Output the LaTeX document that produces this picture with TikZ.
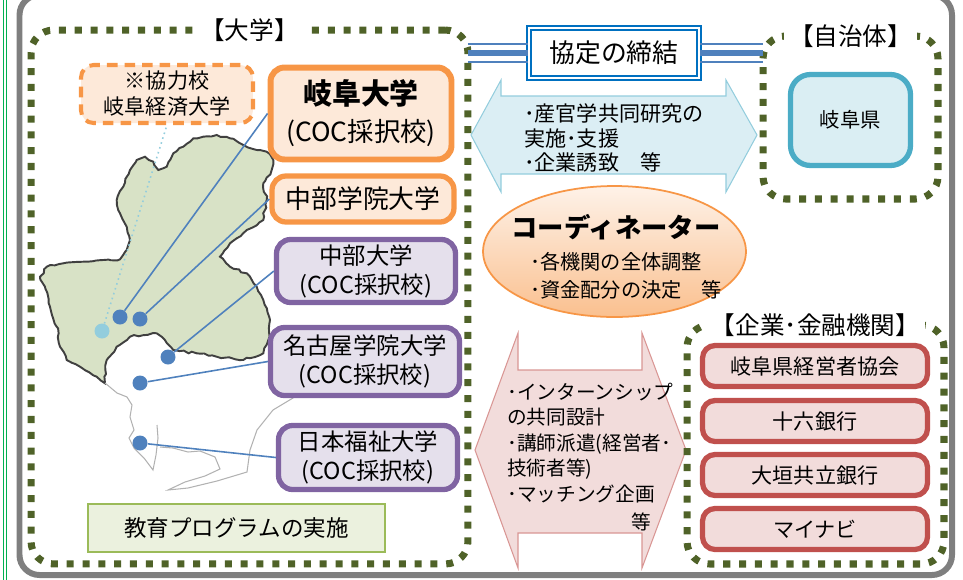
\documentclass[tikz,border=0pt]{standalone}
\usepackage{fontspec}
\setmainfont{Noto Sans CJK JP}
\usetikzlibrary{shapes.geometric, positioning, calc, decorations.pathmorphing}

\definecolor{oliva}{HTML}{4F6228}
\definecolor{grigio}{HTML}{7F7F7F}
\definecolor{verde}{HTML}{00B050}
\definecolor{arancio}{HTML}{F79646}
\definecolor{aranChiaro}{HTML}{FDE9D9}
\definecolor{aranMedio}{HTML}{FAC08F}
\definecolor{viola}{HTML}{8064A2}
\definecolor{violaChiaro}{HTML}{E5E0EC}
\definecolor{rosso}{HTML}{C0504D}
\definecolor{rosa}{HTML}{F2DCDB}
\definecolor{rosaBordo}{HTML}{D99694}
\definecolor{ciano}{HTML}{4BACC6}
\definecolor{cianoChiaro}{HTML}{DAEEF3}
\definecolor{azzurro}{HTML}{DBEEF4}
\definecolor{azzurroBordo}{HTML}{93CDDD}
\definecolor{bluM}{HTML}{4F81BD}
\definecolor{bluScuro}{HTML}{0070C0}
\definecolor{mappa}{HTML}{D8E2C6}
\definecolor{verdeBordo}{HTML}{9BBB59}
\definecolor{verdeChiaro}{HTML}{EBF1DE}

\begin{document}
\begin{tikzpicture}[x=0.02cm, y=-0.02cm,
    gruppo/.style={draw=oliva, line width=4pt, dash pattern=on 4pt off 5pt, rounded corners=0.45cm, inner sep=0, outer sep=0},
    etichetta/.style={fill=white, inner sep=3pt, font=\fontsize{14}{16}\selectfont},
    uniArancio/.style={draw=arancio, fill=aranChiaro, line width=3.4pt, rounded corners=0.28cm, align=center, inner sep=0},
    uniViola/.style={draw=viola, fill=violaChiaro, line width=3pt, rounded corners=0.28cm, align=center, inner sep=0, font=\fontsize{13.3}{16.5}\selectfont},
    impresa/.style={draw=rosso, fill=rosa, line width=3pt, rounded corners=0.25cm, inner sep=0, minimum width=4.5cm, minimum height=0.82cm, font=\fontsize{12}{14}\selectfont},
    punto/.style={circle, fill=bluM, inner sep=0, minimum size=0.3cm},
    filo/.style={draw=bluM, line width=0.9pt},
    bordoMappa/.style={draw=black!75, line width=1.1pt, fill=mappa, decorate, decoration={random steps, segment length=2.5pt, amplitude=0.7pt}},
    costa/.style={draw=black!30, line width=0.6pt}]
    \useasboundingbox (0,0) rectangle (963,579);

    % Cornice
    \draw[verde, line width=0.5pt] (3.5,-5) -- (3.5,590);
    \draw[verde, line width=0.5pt] (6.5,-5) -- (6.5,590);
    \draw[grigio, line width=3.4pt, rounded corners=0.4cm] (19.5,-5) rectangle (952,575);

    % Mappa
    \path[bordoMappa] (130,170) -- (136.7,160) -- (145,156.7) -- (153.3,161.7) -- (158.3,170) -- (166.7,166.7)
        -- (173.3,153.3) -- (183.3,146.7) -- (193.3,138.3) -- (203.3,136.7) -- (216.7,135) -- (230,138.3)
        -- (243.3,145) -- (256.7,150) -- (266.7,151.7) -- (273.3,160) -- (271.7,170) -- (263.3,183.3)
        -- (266.7,200) -- (263.3,220) -- (246.7,230) -- (230,243.3) -- (220,256.7) -- (230,266.7)
        -- (246.7,273.3) -- (256.7,286.7) -- (263.3,300) -- (270,320) -- (268.3,340) -- (263.3,353.3)
        -- (243.3,360) -- (216.7,356.7) -- (196.7,353.3) -- (173.3,350) -- (156.7,333.3) -- (130,336.7)
        -- (116.7,346.7) -- (106.7,360) -- (105,383.3) -- (96.7,376.7) -- (80,366.7) -- (66.7,360)
        -- (60,346.7) -- (56.7,326.7) -- (50,306.7) -- (45,286.7) -- (40,276.7) -- (46.7,266.7)
        -- (63.3,263.3) -- (83.3,261.7) -- (103.3,260) -- (120,259.3) -- (126.7,250) -- (130,240)
        -- (126.7,226.7) -- (120,213.3) -- (116.7,200) -- (123.3,186.7) -- cycle;
    \draw[costa] (105,383) -- (117,393) -- (127,397) -- (132,405) -- (130,417) -- (134,430) -- (129,438)
        -- (134,448) -- (144,458) -- (153,470) -- (156,455) -- (158,438) -- (157,425);
    \draw[costa] (160,447) -- (173,448) -- (188,452) -- (200,451) -- (215,457) -- (220,469) -- (205,476)
        -- (185,482) -- (168,490) -- (188,488) -- (217,481) -- (247,472) -- (250,450) -- (257,430)
        -- (273,410) -- (293,398) -- (290,370) -- (268,345);

    % Frecce
    \draw[fill=azzurro, draw=azzurroBordo, line width=0.6pt] (471,135) -- (501,80) -- (501,96) -- (726,96)
        -- (726,80) -- (757,135) -- (726,192) -- (726,174) -- (501,174) -- (501,192) -- cycle;
    \draw[fill=rosa, draw=rosaBordo, line width=0.6pt] (475,450) -- (518,333) -- (518,370) -- (642,370)
        -- (642,333) -- (686,450) -- (642,568) -- (642,533) -- (518,533) -- (518,568) -- cycle;
    \node[anchor=west, align=left, font=\fontsize{12}{14.2}\selectfont] (testoBlu) at (518,138)
        {･産官学共同研究の\\実施･支援\\･企業誘致　等};
    \node[anchor=west, align=left, font=\fontsize{11.2}{14.5}\selectfont] (testoRosa) at (501,443)
        {･インターンシップ\\の共同設計\\･講師派遣(経営者･\\技術者等)\\･マッチング企画};
    \node[anchor=east, font=\fontsize{11.2}{14.5}\selectfont] (testoEcc) at (657,522) {等};

    % Coordinatore
    \node[ellipse, draw=arancio, line width=1pt, top color=aranChiaro!60!white, bottom color=aranMedio,
        minimum width=5.26cm, minimum height=2.62cm, inner sep=0] (coord) at (614.5,251.5) {};
    \node[font=\fontsize{15}{18}\selectfont\bfseries] (coordT) at (616,227) {コーディネーター};
    \node[anchor=west, align=left, font=\fontsize{11.5}{16}\selectfont] (coordL) at (524,276)
        {･各機関の全体調整\\･資金配分の決定　等};

    % Gruppi
    \node[gruppo, minimum width=8.74cm, minimum height=10.68cm] (uniG) at (249.5,297) {};
    \node[gruppo, minimum width=3.5cm, minimum height=3.26cm] (jichiG) at (850.5,117.5) {};
    \node[gruppo, minimum width=5.14cm, minimum height=4.78cm] (kigyoG) at (815.5,444.5) {};
    \node[etichetta] (uniL) at (uniG.north) {【大学】};
    \node[etichetta] (jichiL) at (jichiG.north) {【自治体】};
    \node[etichetta] (kigyoL) at (kigyoG.north) {【企業･金融機関】};

    % Accordo
    \node[draw=bluScuro, double=white, double distance=1.6pt, line width=0.9pt, fill=white,
        minimum width=3.4cm, minimum height=1.0cm, font=\fontsize{14.7}{16}\selectfont] (accordo) at (614,53) {協定の締結};
    \foreach \dy/\lw in {-9/1.7pt, 0/3.2pt, 9/1.7pt} {
        \draw[bluM, line width=\lw] ($(uniG.east |- accordo.west)+(0,\dy)$) -- ($(accordo.west)+(0,\dy)$);
        \draw[bluM, line width=\lw] ($(accordo.east)+(0,\dy)$) -- ($(jichiG.west |- accordo.east)+(0,\dy)$);
    }

    % Universita
    \node[uniArancio, minimum width=3.62cm, minimum height=1.84cm, font=\fontsize{15}{21}\selectfont] (gifuU)
        at (361,113.5) {{\fontsize{16.5}{20}\selectfont\bfseries 岐阜大学}\\(COC採択校)};
    \node[uniArancio, line width=3pt, minimum width=3.64cm, minimum height=0.92cm, font=\fontsize{14.7}{17}\selectfont]
        (chubuGakuin) at (363,199) {中部学院大学};
    \node[uniViola, minimum width=3.58cm, minimum height=1.26cm] (chubu) at (366,271) {中部大学\\(COC採択校)};
    \node[uniViola, minimum width=3.78cm, minimum height=1.36cm] (nagoyaGakuin) at (365,361.5) {名古屋学院大学\\(COC採択校)};
    \node[uniViola, minimum width=3.58cm, minimum height=1.28cm] (nihonFukushi) at (368,457.5) {日本福祉大学\\(COC採択校)};
    \node[draw=arancio, fill=aranChiaro, line width=2.3pt, dash pattern=on 6pt off 4pt, rounded corners=0.25cm,
        minimum width=3.44cm, minimum height=1.16cm, align=center, inner sep=0, font=\fontsize{12}{14.8}\selectfont]
        (koryoku) at (167,94) {※協力校\\岐阜経済大学};
    \node[draw=verdeBordo, fill=verdeChiaro, line width=1.2pt, minimum width=5.94cm, minimum height=0.96cm,
        font=\fontsize{12.8}{15}\selectfont] (kyoiku) at (236.5,528) {教育プログラムの実施};

    % Punti sulla mappa
    \node[punto] (d1) at (120,317) {};
    \node[punto] (d2) at (140,319) {};
    \node[punto] (d3) at (168,357) {};
    \node[punto] (d4) at (140,383) {};
    \node[punto] (d5) at (140,443) {};
    \node[punto, fill=azzurroBordo] (dk) at (102,331) {};
    \foreach \p/\b in {d1/gifuU, d2/chubuGakuin, d3/chubu, d4/nagoyaGakuin, d5/nihonFukushi}
        \draw[filo] (\p) -- (\b.west);
    \draw[azzurroBordo, line width=0.9pt, dotted] (dk) -- (koryoku.south);

    % Autonomia locale
    \node[draw=ciano, fill=cianoChiaro, line width=3pt, rounded corners=0.4cm, minimum width=2.4cm, minimum height=1.82cm,
        font=\fontsize{11.6}{14}\selectfont] (gifuKen) at (850.5,120) {岐阜県};

    % Imprese
    \foreach \nome/\y/\id in {岐阜県経営者協会/366/k1, 十六銀行/421/k2, 大垣共立銀行/475/k3, マイナビ/529/k4}
        \node[impresa] (\id) at (815,\y) {\nome};
\end{tikzpicture}
\end{document}
